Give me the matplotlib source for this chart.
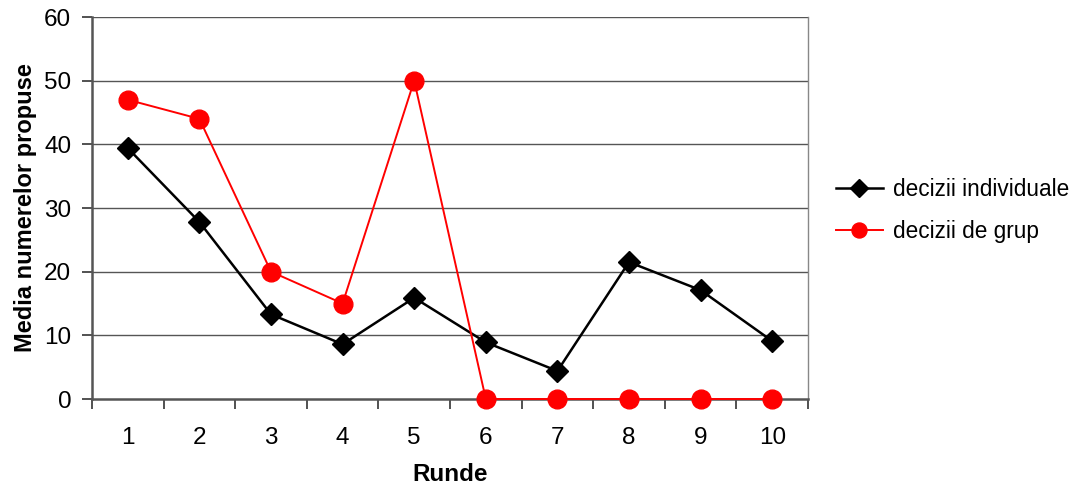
import matplotlib
matplotlib.use("Agg")
import matplotlib.pyplot as plt

plt.rcParams['font.family'] = ['Liberation Sans', 'DejaVu Sans']

runde = [1, 2, 3, 4, 5, 6, 7, 8, 9, 10]
individuale = [39.4, 27.8, 13.3, 8.6, 15.9, 8.9, 4.4, 21.5, 17.1, 9.1]
grup = [47, 44, 20, 15, 50, 0, 0, 0, 0, 0]
yticks = [0, 10, 20, 30, 40, 50, 60]

fig = plt.figure(figsize=(10.76, 4.86), dpi=100)
ax = fig.add_axes([92/1076, 87/486, (808-92)/1076, (399-17)/486])

for y in yticks[1:]:
    ax.axhline(y, color='#555555', lw=1.0, zorder=1)

ax.plot(runde, individuale, color='black', lw=1.8, marker='D', ms=11,
        label='decizii individuale', zorder=3, clip_on=False)
ax.plot(runde, grup, color='#ff0000', lw=1.4, marker='o', ms=13.5,
        label='decizii de grup', zorder=4, clip_on=False)

ax.set_xlim(0.5, 10.5)
ax.set_ylim(0, 60)
ax.set_yticks(yticks)
ax.set_xticks(runde)
ax.set_xticks([i + 0.5 for i in range(0, 11)], minor=True)
ax.tick_params(axis='x', which='major', length=0, labelsize=17.5, pad=20)
ax.tick_params(axis='x', which='minor', length=7, color='#333333', width=1.2)
ax.tick_params(axis='y', length=7, color='#333333', width=1.2, labelsize=17.5, pad=8)

for s in ['left', 'bottom']:
    ax.spines[s].set_color('#555555')
    ax.spines[s].set_linewidth(1.8)
ax.spines['right'].set_color('#888888')
ax.spines['right'].set_linewidth(1.0)
ax.spines['top'].set_visible(False)

ax.set_xlabel('Runde', fontsize=17.5, fontweight='bold', labelpad=10)
ax.set_ylabel('Media numerelor propuse', fontsize=17, fontweight='bold', labelpad=5)

ax.legend(loc='center left', bbox_to_anchor=(1.01, 0.493), frameon=False,
          fontsize=16.3, handlelength=2.1, handletextpad=0.45, labelspacing=0.85,
          markerscale=0.8, borderaxespad=0.5)

fig.savefig('out.png', dpi=100)
